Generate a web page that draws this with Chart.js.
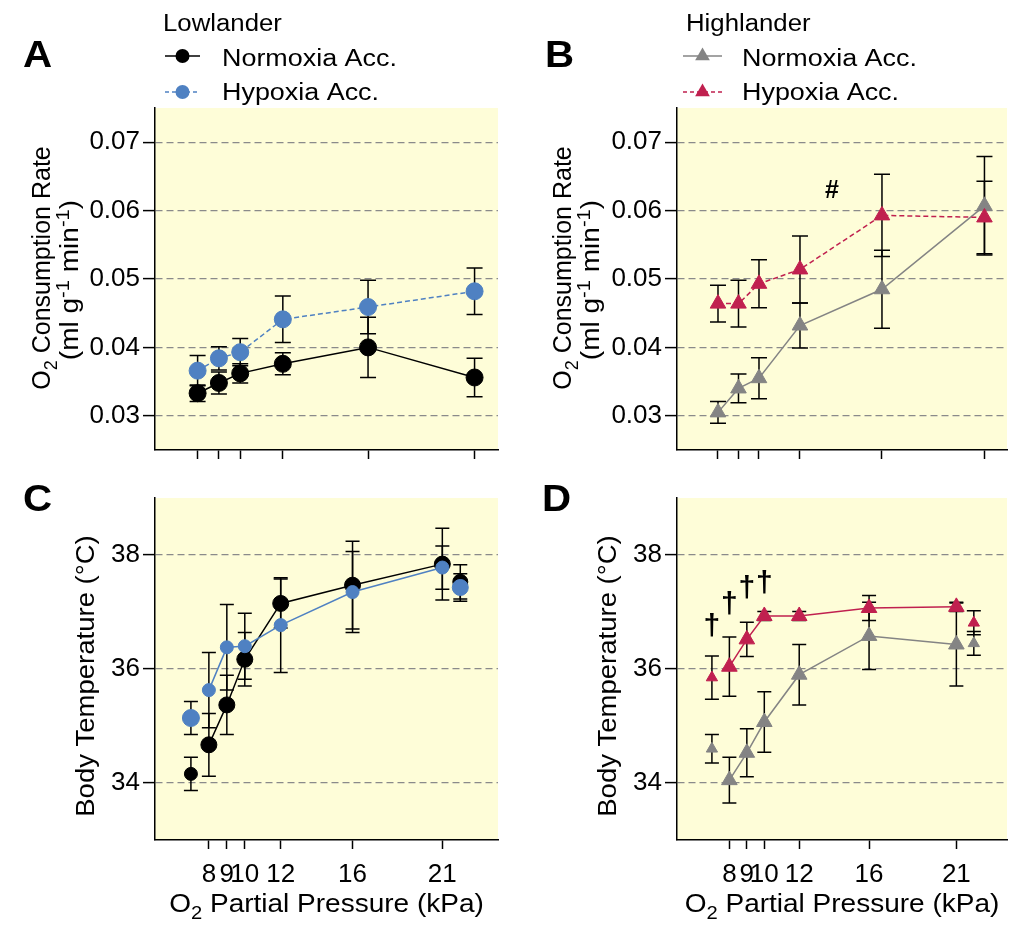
<!DOCTYPE html>
<html>
<head>
<meta charset="utf-8">
<script src="https://cdn.jsdelivr.net/npm/chart.js@4.4.1/dist/chart.umd.min.js"></script>
<style>
  html, body { margin: 0; padding: 0; background: #fff; }
  #wrap { position: relative; width: 1017px; height: 925px; }
  canvas { position: absolute; }
</style>
</head>
<body>
<div id="wrap">
  <canvas id="panelA" width="517" height="470" style="left:0;top:0"></canvas>
  <canvas id="panelB" width="500" height="470" style="left:517px;top:0"></canvas>
  <canvas id="panelC" width="517" height="455" style="left:0;top:470px"></canvas>
  <canvas id="panelD" width="500" height="455" style="left:517px;top:470px"></canvas>
</div>
<script>
const FONT = "'Liberation Sans', Arial, sans-serif";

// O2 partial pressure (kPa)
const o2Levels = [8, 9, 10, 12, 16, 21];
const o2Extra = [7, 22];          // unconnected points (before / after)
const xTicks = [8, 9, 10, 12, 16, 21];
const vo2Ticks = [0.03, 0.04, 0.05, 0.06, 0.07];
const tbTicks = [34, 36, 38];

// A - lowlander O2 consumption (ml g-1 min-1), mean and sem
const lowNormVO2 = [0.0333, 0.0348, 0.0362, 0.0376, 0.0400, 0.0356];
const lowNormVO2Sem = [0.0012, 0.0016, 0.0014, 0.0016, 0.0044, 0.0028];
const lowHypVO2 = [0.0366, 0.0384, 0.0393, 0.0441, 0.0459, 0.0482];
const lowHypVO2Sem = [0.0022, 0.0017, 0.0020, 0.0034, 0.0039, 0.0034];

// B - highlander O2 consumption
const highNormVO2 = [0.0305, 0.0340, 0.0355, 0.0432, 0.0485, 0.0607];
const highNormVO2Sem = [0.0016, 0.0021, 0.0030, 0.0033, 0.0057, 0.0072];
const highHypVO2 = [0.0464, 0.0464, 0.0493, 0.0514, 0.0593, 0.0590];
const highHypVO2Sem = [0.0027, 0.0034, 0.0035, 0.0049, 0.0060, 0.0053];

// C - lowlander body temperature (°C)
const lowNormTb = [34.67, 35.37, 36.17, 37.15, 37.47, 37.84];
const lowNormTbSem = [0.55, 0.52, 0.47, 0.43, 0.77, 0.63];
const lowNormTbExtra = [34.16, 37.53];
const lowNormTbExtraSem = [0.29, 0.30];
const lowHypTb = [35.63, 36.38, 36.40, 36.77, 37.35, 37.78];
const lowHypTbSem = [0.66, 0.75, 0.58, 0.83, 0.71, 0.38];
const lowHypTbExtra = [35.14, 37.43];
const lowHypTbExtraSem = [0.29, 0.24];

// D - highlander body temperature
const highNormTb = [34.05, 34.53, 35.07, 35.90, 36.58, 36.43];
const highNormTbSem = [0.40, 0.42, 0.53, 0.53, 0.59, 0.73];
const highNormTbExtra = [34.60, 36.45];
const highNormTbExtraSem = [0.25, 0.21];
const highHypTb = [36.04, 36.52, 36.93, 36.93, 37.07, 37.09];
const highHypTbSem = [0.52, 0.30, 0.08, 0.08, 0.22, 0.08];
const highHypTbExtra = [35.85, 36.81];
const highHypTbExtraSem = [0.38, 0.21];

// significance marks
const hashMark = { x: 13.56, y: 0.0629 };
const daggerX = [7, 8, 9, 10];
const daggerY = [36.74, 37.12, 37.40, 37.50];

const BLACK = '#000000', BLUE = '#4f81c2', GREY = '#848484', RED = '#c0204f';

const pts = (xs, ys) => xs.map((x, i) => ({ x: x, y: ys[i] }));

// ---------- drawing helpers ----------
function segFont(s, size) {
  return (s.sub || s.sup ? Math.round(size * 0.7) : size) + 'px ' + FONT;
}
function drawRich(ctx, segs, size, cx, base, sx, rotate) {
  ctx.save();
  ctx.translate(cx, base);
  if (rotate) ctx.rotate(-Math.PI / 2);
  ctx.scale(sx, 1);
  let w = 0;
  segs.forEach(s => { ctx.font = segFont(s, size); w += ctx.measureText(s.t).width; });
  let x = -w / 2;
  ctx.fillStyle = '#000';
  ctx.textAlign = 'left';
  ctx.textBaseline = 'alphabetic';
  segs.forEach(s => {
    ctx.font = segFont(s, size);
    const dy = s.sub ? size * 0.28 : (s.sup ? -size * 0.36 : 0);
    ctx.fillText(s.t, x, dy);
    x += ctx.measureText(s.t).width;
  });
  ctx.restore();
}
function drawStretched(ctx, text, x, y, font, sx) {
  ctx.save();
  ctx.translate(x, y);
  ctx.scale(sx, 1);
  ctx.font = font;
  ctx.fillStyle = '#000';
  ctx.textAlign = 'left';
  ctx.textBaseline = 'alphabetic';
  ctx.fillText(text, 0, 0);
  ctx.restore();
}
function drawMarker(ctx, shape, x, y, r, color) {
  ctx.save();
  ctx.fillStyle = color;
  ctx.beginPath();
  if (shape === 'triangle') {
    for (let k = 0; k < 3; k++) {
      const ang = k * 2 * Math.PI / 3;
      const px = x + Math.sin(ang) * r, py = y - Math.cos(ang) * r;
      if (k === 0) ctx.moveTo(px, py); else ctx.lineTo(px, py);
    }
    ctx.closePath();
  } else {
    ctx.arc(x, y, r, 0, Math.PI * 2);
  }
  ctx.fill();
  ctx.restore();
}

// ---------- plugins ----------
const panelBg = {
  id: 'panelBg',
  beforeDraw(chart) {
    const { ctx, chartArea: a } = chart;
    ctx.save();
    ctx.fillStyle = '#fefdd8';
    ctx.fillRect(a.left, a.top, a.right - a.left, a.bottom - a.top);
    ctx.restore();
  }
};

const errorBars = {
  id: 'errorBars',
  beforeDatasetsDraw(chart) {
    const { ctx, scales: { x, y } } = chart;
    ctx.save();
    ctx.strokeStyle = '#000';
    ctx.lineWidth = 1.5;
    chart.data.datasets.forEach(ds => {
      if (!ds.sem) return;
      const cap = ds.capWidth || 8;
      ds.data.forEach((p, j) => {
        const px = x.getPixelForValue(p.x);
        const top = y.getPixelForValue(p.y + ds.sem[j]);
        const bot = y.getPixelForValue(p.y - ds.sem[j]);
        ctx.beginPath();
        ctx.moveTo(px, top); ctx.lineTo(px, bot);
        ctx.moveTo(px - cap, top); ctx.lineTo(px + cap, top);
        ctx.moveTo(px - cap, bot); ctx.lineTo(px + cap, bot);
        ctx.stroke();
      });
    });
    ctx.restore();
  }
};

function decorPlugin(opts) {
  return {
    id: 'decor',
    afterDraw(chart) {
      const ctx = chart.ctx;
      const a = chart.chartArea;
      const midY = (a.top + a.bottom) / 2;
      drawStretched(ctx, opts.letter, opts.letterX, opts.letterY, 'bold 36px ' + FONT, 1.12);

      if (opts.legend) {
        const lg = opts.legend;
        drawStretched(ctx, lg.title, lg.titleX, 31, '23px ' + FONT, 1.12);
        lg.items.forEach(it => {
          ctx.save();
          ctx.strokeStyle = it.color;
          ctx.lineWidth = 1.5;
          ctx.setLineDash(it.dash);
          ctx.beginPath();
          ctx.moveTo(lg.x1, it.y); ctx.lineTo(lg.x2, it.y);
          ctx.stroke();
          ctx.restore();
          drawMarker(ctx, lg.shape, (lg.x1 + lg.x2) / 2, it.y, lg.r, it.color);
          drawStretched(ctx, it.label, lg.textX, it.textY, '23px ' + FONT, 1.17);
        });
      }

      opts.yTitle.forEach(line => {
        drawRich(ctx, line.segs, line.size, line.x, midY + line.dy, line.sx, true);
      });
      if (opts.xTitle) {
        drawRich(ctx, opts.xTitle.segs, 25, (a.left + a.right) / 2, opts.xTitle.y, 1.12, false);
      }
      if (opts.notes) {
        const { x, y } = chart.scales;
        ctx.save();
        ctx.fillStyle = '#000';
        ctx.textAlign = 'center';
        ctx.textBaseline = 'middle';
        opts.notes.forEach(n => {
          ctx.font = n.font;
          ctx.fillText(n.text, x.getPixelForValue(n.x), y.getPixelForValue(n.y));
        });
        ctx.restore();
      }
    }
  };
}

// ---------- chart factory ----------
function makeChart(id, cfg) {
  const tickFont = { family: FONT, size: 26 };
  return new Chart(document.getElementById(id), {
    type: 'line',
    data: { datasets: cfg.datasets },
    options: {
      responsive: false,
      animation: false,
      devicePixelRatio: 1,
      layout: { padding: cfg.padding },
      elements: { line: { tension: 0 } },
      plugins: { legend: { display: false }, tooltip: { enabled: false } },
      scales: {
        x: {
          type: 'linear',
          min: cfg.xMin,
          max: cfg.xMax,
          afterBuildTicks: s => { s.ticks = xTicks.map(v => ({ value: v })); },
          afterFit: s => { s.height = cfg.xHeight; },
          ticks: {
            display: cfg.xLabels, font: tickFont, color: '#000', padding: 10,
            autoSkip: false, maxRotation: 0, callback: v => String(v)
          },
          grid: { drawOnChartArea: false, drawTicks: true, tickLength: 9, tickColor: '#000', tickWidth: 1.5 },
          border: { color: '#000', width: 1.5 }
        },
        y: {
          type: 'linear',
          min: cfg.yMin,
          max: cfg.yMax,
          afterBuildTicks: s => { s.ticks = cfg.yTicks.map(v => ({ value: v })); },
          afterFit: s => { s.width = cfg.yWidth; },
          ticks: { font: tickFont, color: '#000', padding: 3, callback: cfg.yFormat },
          grid: { color: '#8a8a8a', lineWidth: 1.2, drawTicks: true, tickLength: 12, tickColor: '#000', tickWidth: 1.5 },
          border: { color: '#000', width: 1.5, dash: [7, 4] }
        }
      }
    },
    plugins: [panelBg, errorBars, decorPlugin(cfg.decor)]
  });
}

function series(xs, ys, sem, color, shape, r, opt) {
  return Object.assign({
    data: pts(xs, ys),
    sem: sem,
    borderColor: color,
    backgroundColor: color,
    pointBackgroundColor: color,
    pointBorderColor: color,
    borderWidth: 1.5,
    pointStyle: shape,
    pointRadius: r,
    pointBorderWidth: 1,
    capWidth: 8
  }, opt || {});
}

const vo2Title = [
  { segs: [{ t: 'O' }, { t: '2', sub: 1 }, { t: ' Consumption Rate' }], size: 25, sx: 1.0, dy: -11 },
  { segs: [{ t: '(ml g' }, { t: '-1', sup: 1 }, { t: ' min' }, { t: '-1', sup: 1 }, { t: ')' }], size: 25, sx: 1.12, dy: 1 }
];
const tbTitle = [{ segs: [{ t: 'Body Temperature (°C)' }], size: 25, sx: 1.1, dy: 7 }];
const xTitleSegs = [{ t: 'O' }, { t: '2', sub: 1 }, { t: ' Partial Pressure (kPa)' }];

// ---------- panel A ----------
makeChart('panelA', {
  padding: { left: 0, top: 108, right: 19, bottom: 0 },
  xMin: 6, xMax: 22.1, xHeight: 20, xLabels: false,
  yMin: 0.025, yMax: 0.075, yTicks: vo2Ticks, yWidth: 155, yFormat: v => v.toFixed(2),
  datasets: [
    series(o2Levels, lowHypVO2, lowHypVO2Sem, BLUE, 'circle', 8.5, { borderDash: [5, 3] }),
    series(o2Levels, lowNormVO2, lowNormVO2Sem, BLACK, 'circle', 8.5)
  ],
  decor: {
    letter: 'A', letterX: 23, letterY: 67,
    legend: {
      title: 'Lowlander', titleX: 163, x1: 165, x2: 200, textX: 222, shape: 'circle', r: 7,
      items: [
        { label: 'Normoxia Acc.', color: BLACK, dash: [], y: 56, textY: 66 },
        { label: 'Hypoxia Acc.', color: BLUE, dash: [4, 3], y: 92, textY: 100 }
      ]
    },
    yTitle: [Object.assign({ x: 50 }, vo2Title[0]), Object.assign({ x: 78 }, vo2Title[1])]
  }
});

// ---------- panel B ----------
makeChart('panelB', {
  padding: { left: 0, top: 108, right: 1, bottom: 0 },
  xMin: 6, xMax: 22.1, xHeight: 20, xLabels: false,
  yMin: 0.025, yMax: 0.075, yTicks: vo2Ticks, yWidth: 160, yFormat: v => v.toFixed(2),
  datasets: [
    series(o2Levels, highHypVO2, highHypVO2Sem, RED, 'triangle', 9, { borderDash: [5, 3] }),
    series(o2Levels, highNormVO2, highNormVO2Sem, GREY, 'triangle', 9)
  ],
  decor: {
    letter: 'B', letterX: 28, letterY: 67,
    legend: {
      title: 'Highlander', titleX: 169, x1: 166, x2: 205, textX: 225, shape: 'triangle', r: 8.5,
      items: [
        { label: 'Normoxia Acc.', color: GREY, dash: [], y: 56, textY: 66 },
        { label: 'Hypoxia Acc.', color: RED, dash: [4, 3], y: 92, textY: 100 }
      ]
    },
    yTitle: [Object.assign({ x: 54 }, vo2Title[0]), Object.assign({ x: 82 }, vo2Title[1])],
    notes: [{ text: '#', x: hashMark.x, y: hashMark.y, font: 'bold 25px ' + FONT }]
  }
});

// ---------- panel C ----------
makeChart('panelC', {
  padding: { left: 0, top: 28, right: 19, bottom: 0 },
  xMin: 5, xMax: 24.1, xHeight: 85, xLabels: true,
  yMin: 33, yMax: 39, yTicks: tbTicks, yWidth: 155, yFormat: v => String(v),
  datasets: [
    series(o2Levels, lowHypTb, lowHypTbSem, BLUE, 'circle', 6.5, { capWidth: 7 }),
    series(o2Extra, lowHypTbExtra, lowHypTbExtraSem, BLUE, 'circle', [8.5, 8], { showLine: false, capWidth: 7 }),
    series(o2Levels, lowNormTb, lowNormTbSem, BLACK, 'circle', 8, { capWidth: 7 }),
    series(o2Extra, lowNormTbExtra, lowNormTbExtraSem, BLACK, 'circle', [6.5, 7.5], { showLine: false, capWidth: 7 })
  ],
  decor: {
    letter: 'C', letterX: 23, letterY: 41,
    yTitle: [Object.assign({ x: 94 }, tbTitle[0])],
    xTitle: { segs: xTitleSegs, y: 442 }
  }
});

// ---------- panel D ----------
makeChart('panelD', {
  padding: { left: 0, top: 28, right: 1, bottom: 0 },
  xMin: 5, xMax: 23.9, xHeight: 85, xLabels: true,
  yMin: 33, yMax: 39, yTicks: tbTicks, yWidth: 160, yFormat: v => String(v),
  datasets: [
    series(o2Levels, highHypTb, highHypTbSem, RED, 'triangle', 9, { capWidth: 7 }),
    series(o2Extra, highHypTbExtra, highHypTbExtraSem, RED, 'triangle', 6.5, { showLine: false, capWidth: 7 }),
    series(o2Levels, highNormTb, highNormTbSem, GREY, 'triangle', 9, { capWidth: 7 }),
    series(o2Extra, highNormTbExtra, highNormTbExtraSem, GREY, 'triangle', 6.5, { showLine: false, capWidth: 7 })
  ],
  decor: {
    letter: 'D', letterX: 25, letterY: 41,
    yTitle: [Object.assign({ x: 99 }, tbTitle[0])],
    xTitle: { segs: xTitleSegs, y: 442 },
    notes: daggerX.map((x, i) => ({ text: '\u2020', x: x, y: daggerY[i], font: 'bold 30px ' + FONT }))
  }
});
</script>
</body>
</html>
